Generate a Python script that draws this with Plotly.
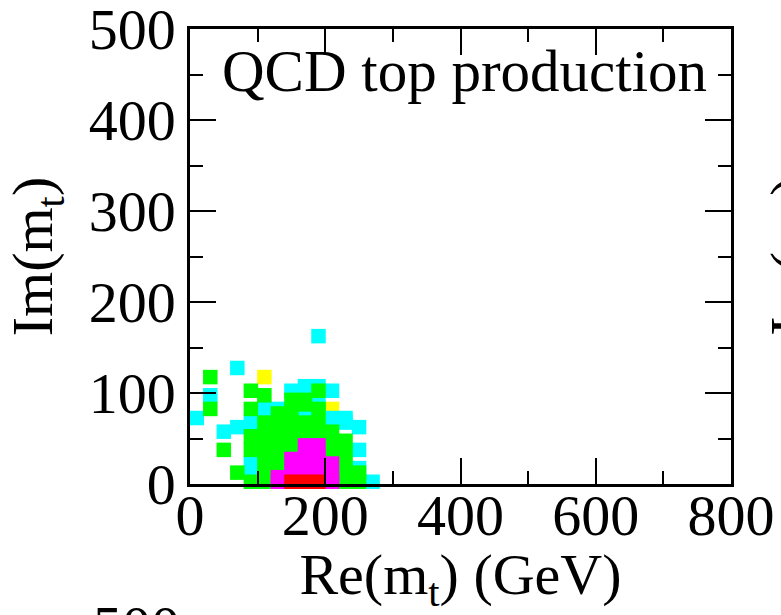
import plotly.graph_objects as go

# Cell centres (Re, Im) in GeV for each colour class of the scan
cyan_re = [10, 30, 50, 70, 70, 90, 90, 90, 110, 130, 150, 170, 170, 190, 190, 190,
           210, 210, 230, 230, 250, 250, 250, 270]
cyan_im = [72.5, 97.5, 57.5, 127.5, 62.5, 67.5, 22.5, 12.5, 82.5, 82.5, 102.5, 107.5, 77.5,
           162.5, 107.5, 87.5, 102.5, 72.5, 72.5, 67.5, 62.5, 37.5, 17.5, 2.5]

green_re = [30, 30, 50, 70,
            90, 90, 90, 90, 90,
            110, 110, 110, 110, 110, 110, 110,
            130, 130, 130, 130, 130,
            150, 150, 150, 150, 150,
            170, 170, 170, 170,
            190, 190, 190, 190,
            210, 210, 210,
            230, 230, 230, 230,
            250, 250]
green_im = [117.5, 82.5, 37.5, 12.5,
            102.5, 82.5, 52.5, 37.5, 2.5,
            97.5, 67.5, 52.5, 37.5, 22.5, 7.5, 2.5,
            77.5, 62.5, 47.5, 32.5, 17.5,
            92.5, 77.5, 62.5, 47.5, 32.5,
            92.5, 87.5, 67.5, 52.5,
            102.5, 82.5, 67.5, 52.5,
            57.5, 42.5, 27.5,
            47.5, 32.5, 17.5, 2.5,
            12.5, 2.5]

yellow_re = [110, 210]
yellow_im = [117.5, 82.5]

magenta_re = [130, 130, 150, 150, 170, 170, 170, 190, 190, 190, 210, 210, 210]
magenta_im = [7.5, 2.5, 27.5, 12.5, 42.5, 27.5, 12.5, 42.5, 27.5, 12.5, 22.5, 7.5, 2.5]

red_re = [150, 170, 190]
red_im = [2.5, 2.5, 2.5]

x_ticks = [0, 200, 400, 600, 800]
y_ticks = [0, 100, 200, 300, 400, 500]

FONT = "Liberation Serif"
FS = 58

fig = go.Figure()

# Layering: yellow first, then cyan, green, magenta and red on top
for xs, ys, col in [
    (yellow_re, yellow_im, "#ffff00"),
    (cyan_re, cyan_im, "#00ffff"),
    (green_re, green_im, "#00ff00"),
    (magenta_re, magenta_im, "#ff00ff"),
    (red_re, red_im, "#ff0000"),
]:
    fig.add_trace(go.Scatter(
        x=xs, y=ys, mode="markers",
        marker=dict(symbol="square", size=14.5, color=col, line=dict(width=0)),
        cliponaxis=False, showlegend=False, hoverinfo="skip",
    ))

axis_common = dict(
    showline=True, linecolor="black", linewidth=2.5, mirror="ticks",
    ticks="inside", ticklen=26, tickwidth=2, tickcolor="black",
    showgrid=False, zeroline=False,
    tickfont=dict(family=FONT, size=FS, color="black"),
    ticklabeloverflow="allow",
    automargin=False,
    layer="above traces",
)

fig.update_xaxes(
    range=[0, 800], tickvals=x_ticks, ticktext=[str(v) for v in x_ticks],
    minor=dict(tickvals=[100, 300, 500, 700], ticks="inside", ticklen=13, tickwidth=2, tickcolor="black"),
    ticklabelstandoff=-21,
    title=dict(text="Re(m<sub>t</sub>) (GeV)", font=dict(family=FONT, size=FS, color="black"), standoff=7),
    **axis_common,
)
fig.update_yaxes(
    range=[0, 500], tickvals=y_ticks, ticktext=[str(v) for v in y_ticks],
    minor=dict(tickvals=[50, 150, 250, 350, 450], ticks="inside", ticklen=13, tickwidth=2, tickcolor="black"),
    title=dict(text="Im(m<sub>t</sub>)", font=dict(family=FONT, size=FS, color="black"), standoff=18),
    **axis_common,
)

fig.add_annotation(
    text="QCD top production", x=0.507, y=0.908, xref="paper", yref="paper",
    xanchor="center", yanchor="middle", showarrow=False,
    font=dict(family=FONT, size=59, color="black"),
)

# Neighbouring panel's labels, cut by the figure edge
fig.add_annotation(
    text="Im(m<sub>t</sub>)", x=1.117, y=0.5, xref="paper", yref="paper",
    xanchor="center", yanchor="middle", textangle=-90, showarrow=False,
    font=dict(family=FONT, size=FS, color="black"),
)
fig.add_annotation(
    text="500", x=-0.015, y=-0.314, xref="paper", yref="paper",
    xanchor="right", yanchor="middle", showarrow=False,
    font=dict(family=FONT, size=FS, color="black"),
)

fig.update_layout(
    width=781, height=615,
    margin=dict(l=190, r=50, t=29, b=131, autoexpand=False),
    paper_bgcolor="white", plot_bgcolor="white",
)

fig.write_html("out.html")
